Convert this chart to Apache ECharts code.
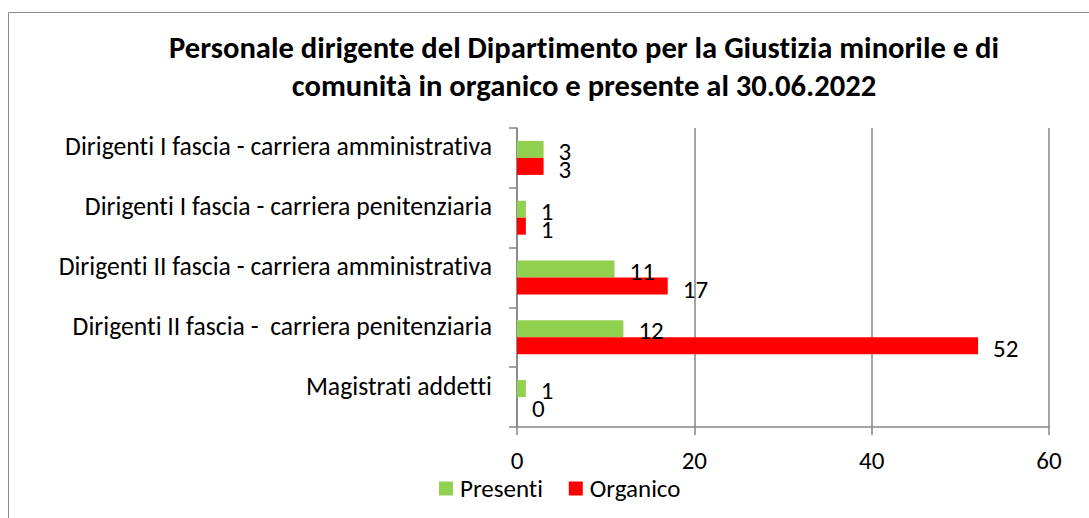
<!DOCTYPE html>
<html>
<head>
<meta charset="utf-8">
<script src="https://cdn.jsdelivr.net/npm/echarts@6/dist/echarts.min.js"></script>
<style>
  html, body { margin: 0; padding: 0; background: #fff; }
  #chart { width: 1089px; height: 518px; }
  #chart text { font-variant-ligatures: none; }
</style>
</head>
<body>
<div id="chart"></div>
<script>
// dati
const categorie = [
  "Dirigenti I fascia - carriera amministrativa",
  "Dirigenti I fascia - carriera penitenziaria",
  "Dirigenti II fascia - carriera amministrativa",
  "Dirigenti II fascia -  carriera penitenziaria",
  "Magistrati addetti",
];
const presenti = [3, 1, 11, 12, 1];
const organico = [3, 1, 17, 52, 0];
const tickValori = [0, 20, 40, 60];

const FONT = 'Carlito, "Liberation Sans Narrow", "Open Sans", sans-serif';

var myChart = echarts.init(document.getElementById("chart"), null, { renderer: "svg" });

var option = {
  animation: false,
  textStyle: { fontFamily: FONT, color: "#000" },
  title: {
    text: "Personale dirigente del Dipartimento per la Giustizia minorile e di\ncomunità in organico e presente al 30.06.2022",
    left: 579,
    top: 23,
    textAlign: "center",
    textStyle: {
      fontFamily: FONT,
      fontSize: 30.6,
      fontWeight: "bold",
      lineHeight: 38,
      color: "#000",
    },
  },
  legend: {
    data: ["Presenti", "Organico"],
    left: 439,
    top: 476,
    padding: 0,
    icon: "rect",
    itemWidth: 14,
    itemHeight: 14,
    itemGap: 26,
    textStyle: { fontFamily: FONT, fontSize: 25, lineHeight: 20, color: "#000", padding: [0, 0, 0, 2] },
  },
  graphic: [
    {
      type: "rect",
      shape: { x: 8.5, y: 12.5, width: 1100, height: 520 },
      style: { fill: null, stroke: "#8a8a8a", lineWidth: 1 },
      silent: true,
    },
  ],
  grid: {
    left: 517,
    right: 40,
    top: 128,
    bottom: 91,
  },
  xAxis: {
    type: "value",
    min: tickValori[0],
    max: tickValori[tickValori.length - 1],
    interval: 20,
    axisLine: { show: true, lineStyle: { color: "#868686", width: 1.5 } },
    axisTick: { show: true, length: 8, lineStyle: { color: "#868686", width: 1.5 } },
    splitLine: { show: true, lineStyle: { color: "#868686", width: 1.5 } },
    axisLabel: { fontFamily: FONT, fontSize: 25, lineHeight: 20, color: "#000", margin: 23 },
  },
  yAxis: {
    type: "category",
    data: categorie,
    inverse: true,
    axisLine: { show: true, lineStyle: { color: "#868686", width: 1.5 } },
    axisTick: { show: true, length: 8, lineStyle: { color: "#868686", width: 1.5 } },
    axisLabel: {
      fontFamily: FONT,
      fontSize: 25.7,
      color: "#000",
      margin: 25,
      verticalAlign: "bottom",
      lineHeight: 22,
    },
  },
  series: [
    {
      name: "Presenti",
      type: "bar",
      data: presenti,
      barWidth: 17,
      barGap: "0%",
      itemStyle: { color: "#92D050" },
      label: {
        show: true,
        position: "right",
        distance: 15,
        offset: [0, 2],
        fontFamily: FONT,
        fontSize: 25,
        lineHeight: 17,
        color: "#000",
      },
    },
    {
      name: "Organico",
      type: "bar",
      data: organico,
      barWidth: 17,
      barGap: "0%",
      itemStyle: { color: "#FF0000" },
      label: {
        show: true,
        position: "right",
        distance: 15,
        offset: [0, 3],
        fontFamily: FONT,
        fontSize: 25,
        lineHeight: 17,
        color: "#000",
      },
    },
  ],
};

myChart.setOption(option);
</script>
</body>
</html>
